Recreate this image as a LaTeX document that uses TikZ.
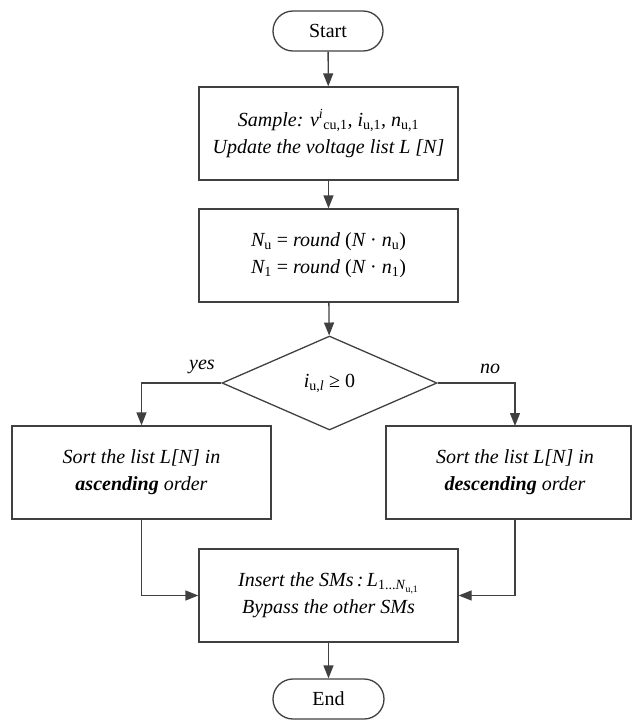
\documentclass[tikz,border=0pt]{standalone}
\usepackage{fontspec}
\setmainfont{Liberation Serif}
\usetikzlibrary{arrows.meta,shapes.geometric}
\newcommand{\lo}[1]{\textsubscript{#1}}
\begin{document}
\begin{tikzpicture}[x=1pt,y=-1pt,
  font=\fontsize{20}{24}\selectfont,
  line width=1.3pt,
  every node/.style={draw=black!75,line width=1.3pt,inner sep=0pt,align=center},
  box/.style={rectangle,minimum width=259pt,minimum height=93pt,font=\fontsize{20}{27}\selectfont\itshape},
  pill/.style={rectangle,rounded corners=20pt,minimum width=110pt,minimum height=40pt},
  dec/.style={diamond,minimum width=215pt,minimum height=94pt},
  plain/.style={draw=none,fill=none},
  arr/.style={draw=black!75,-{Triangle[length=13pt,width=10pt]}}]
\useasboundingbox (0,0) rectangle (632,721);
\node[pill] (start) at (328,31) {Start};
\node[box] (b1) at (328.5,133.5) {Sample: \textit{v}\textsuperscript{\textit{i}}\lo{\upshape cu,1}, \textit{i}\lo{\upshape u,1}, \textit{n}\lo{\upshape u,1}\\Update the voltage list \textit{L} [\textit{N}]};
\node[box] (b2) at (328.5,255.5) {\textit{N}\lo{\upshape u} {\upshape =} round {\upshape(}\textit{N} {\upshape ·} \textit{n}\lo{\upshape u}{\upshape)}\\\textit{N}\lo{\upshape 1} {\upshape =} round {\upshape(}\textit{N} {\upshape ·} \textit{n}\lo{\upshape 1}{\upshape)}};
\node[dec] (dia) at (329.5,383) {\textit{i}\lo{u,\textit{l}} ≥ 0};
\node[box] (lb) at (141.5,472.5) {Sort the list \textit{L}[\textit{N}] in\\\textbf{ascending} order};
\node[box,minimum width=245pt] (rb) at (508.5,472.5) {};
\node[plain,font=\fontsize{20}{27}\selectfont\itshape] (rt) at (515,472.5) {Sort the list \textit{L}[\textit{N}] in\\\textbf{descending} order};
\node[box] (ins) at (328.5,595.5) {Insert the SMs\,:\,\textit{L}\lo{\upshape 1...\textit{N}\lo{\upshape u,1}}\\Bypass the other SMs};
\node[pill,minimum width=111pt] (end) at (328.5,699) {End};
\coordinate (rin) at (515,426);
\coordinate (rout) at (515,519);
\draw[arr] (start) -- (b1);
\draw[arr] (b1) -- (b2);
\draw[arr] (b2) -- (dia);
\draw[arr] (dia.west) -| (lb.north);
\draw[arr] (dia.east) -| (rin);
\draw[arr] (lb.south) |- (ins.west);
\draw[arr] (rout) |- (ins.east);
\draw[arr] (ins) -- (end);
\node[plain,font=\fontsize{20}{24}\selectfont\itshape] (yes) at (202,367) {yes};
\node[plain,font=\fontsize{20}{24}\selectfont\itshape] (no) at (490,369) {no};
\end{tikzpicture}
\end{document}
